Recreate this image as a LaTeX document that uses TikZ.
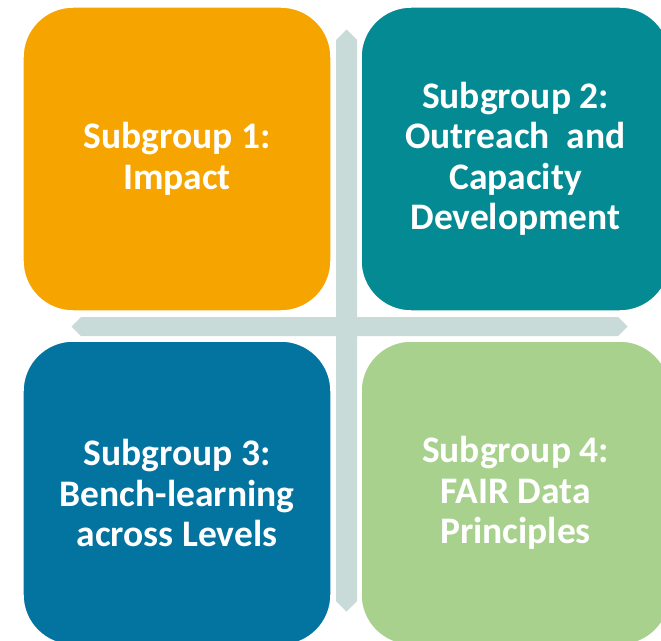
\documentclass[tikz,border=0pt]{standalone}
\usepackage{fontspec}
\setmainfont{Carlito}
\definecolor{sgorange}{HTML}{F6A400}
\definecolor{sgteal}{HTML}{048A92}
\definecolor{sgblue}{HTML}{03739F}
\definecolor{sggreen}{HTML}{A9D18E}
\definecolor{crossgray}{HTML}{C9DBD8}
\tikzset{
  sgbox/.style={draw=white, line width=1.5bp, rounded corners=50bp,
    minimum width=308bp, minimum height=304bp, inner sep=0pt,
    text=white, align=center,
    font=\bfseries\fontsize{37.5bp}{40.5bp}\selectfont},
  crossbar/.style={fill=crossgray, draw=none}
}
\begin{document}
\begin{tikzpicture}[x=1bp, y=-1bp]
\useasboundingbox (0,0) rectangle (661,641);
\clip (0,0) rectangle (661,641);
% background cross
\fill[crossbar] (336,40) -- (346.5,29.5) -- (357,40) -- (357,601) -- (346.5,611.5) -- (336,601) -- cycle;
\fill[crossbar] (81,317) -- (618,317) -- (627.5,326.5) -- (618,336) -- (81,336) -- (71.5,326.5) -- cycle;
% boxes
\node[sgbox, fill=sgorange] (sg1) at (177,159) {Subgroup 1:\\Impact};
\node[sgbox, fill=sgteal, minimum width=309bp] (sg2) at (515.5,159) {Subgroup 2:\\Outreach~~and\\Capacity\\Development};
\node[sgbox, fill=sgblue] (sg3) at (177,493) {Subgroup 3:\\Bench-learning\\across Levels};
\node[sgbox, fill=sggreen, minimum width=309bp] (sg4) at (515.5,493) {Subgroup 4:\\FAIR Data\\Principles};
\end{tikzpicture}
\end{document}
